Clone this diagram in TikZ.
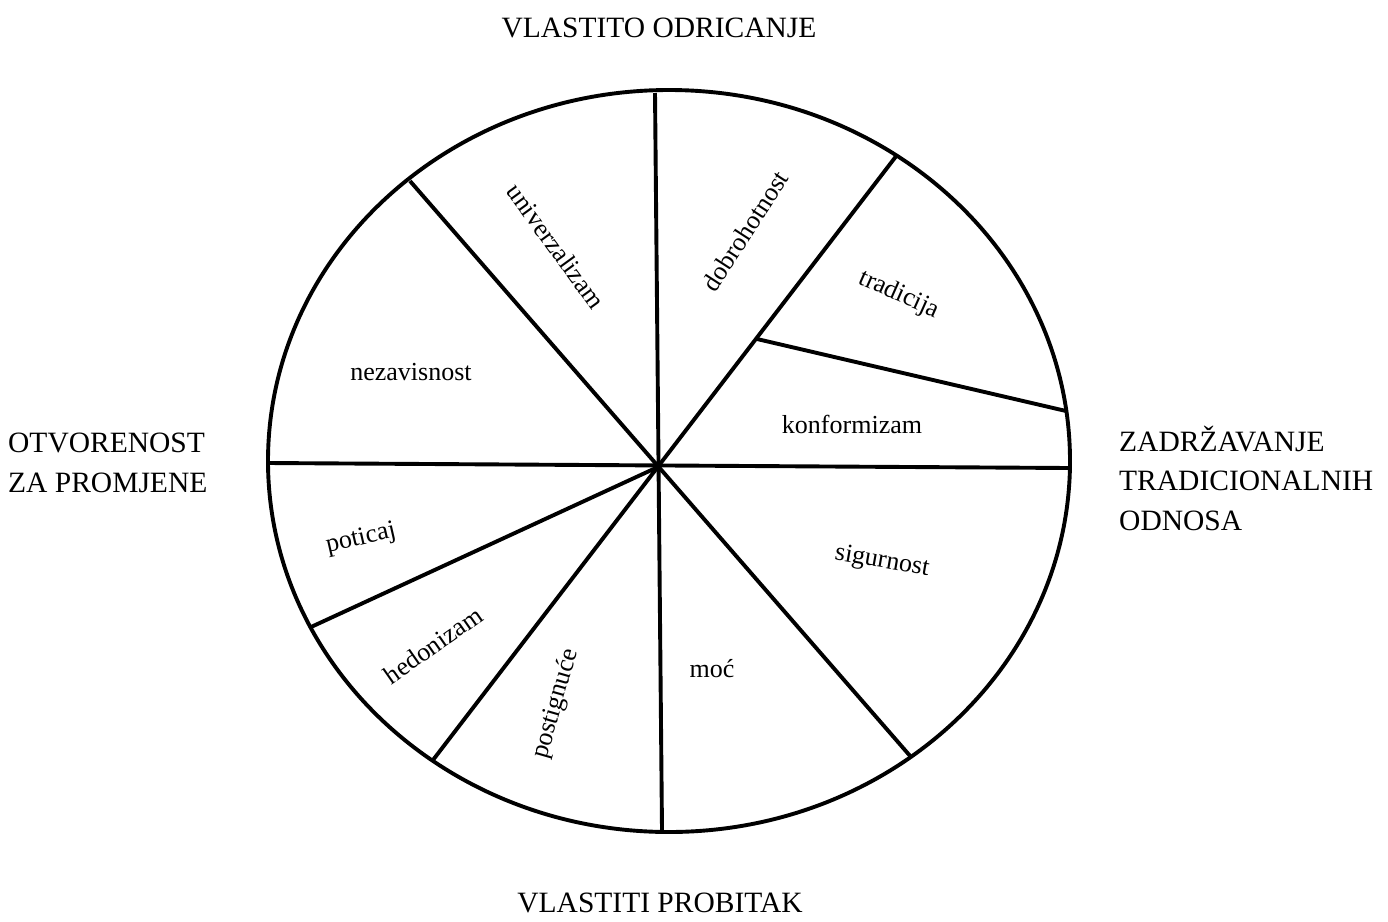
\documentclass[tikz,border=0pt]{standalone}
\usepackage{fontspec}
\setmainfont{Liberation Serif}
\begin{document}
\begin{tikzpicture}[x=1pt,y=-1pt,
  wheel/.style={line width=3.9pt,line cap=butt},
  seg/.style={font=\fontsize{26}{31}\selectfont,inner sep=0pt},
  outer/.style={font=\fontsize{29.5}{39.5}\selectfont,inner sep=0pt,align=left}]
\useasboundingbox (0,0) rectangle (1388,921);
\coordinate (c) at (658,467);
\coordinate (top) at (655,93);
\coordinate (bot) at (662,830);
\coordinate (lft) at (268,463);
\coordinate (rgt) at (1069,468);
\coordinate (ul) at (410,181);
\coordinate (lr) at (911,757);
\coordinate (ur) at (897,155);
\coordinate (ll) at (433,760);
\coordinate (pl) at (311,627);
\coordinate (kstart) at (757,339);
\coordinate (kend) at (1066,411);
\draw[wheel] (669,461) ellipse [x radius=401, y radius=371];
\draw[wheel] (top) -- (bot);
\draw[wheel] (lft) -- (rgt);
\draw[wheel] (ul) -- (lr);
\draw[wheel] (ur) -- (ll);
\draw[wheel] (c) -- (pl);
\draw[wheel] (kstart) -- (kend);
\node[seg,rotate=-54] (univ) at (556,246) {univerzalizam};
\node[seg,rotate=57] (dobr) at (745,231) {dobrohotnost};
\node[seg,rotate=-24] (trad) at (899,295) {tradicija};
\node[seg] (konf) at (852,424) {konformizam};
\node[seg] (nez) at (411,372) {nezavisnost};
\node[seg,rotate=13] (pot) at (361,539) {poticaj};
\node[seg,rotate=35] (hed) at (433,645) {hedonizam};
\node[seg,rotate=74] (post) at (556,704) {postignuće};
\node[seg] (moc) at (712,669) {moć};
\node[seg,rotate=-10] (sig) at (882,562) {sigurnost};
\node[outer] (vo) at (659,28) {VLASTITO ODRICANJE};
\node[outer] (vp) at (660,903) {VLASTITI PROBITAK};
\node[outer,anchor=west] (otv) at (8,463) {OTVORENOST\\ZA PROMJENE};
\node[outer,anchor=west] (zad) at (1119,478) {ZADRŽAVANJE\\TRADICIONALNIH\\ODNOSA};
\end{tikzpicture}
\end{document}
